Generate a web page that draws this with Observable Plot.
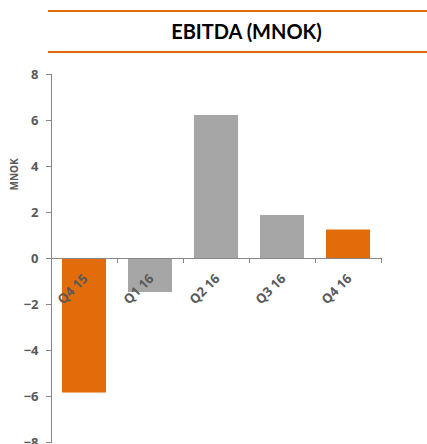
<!DOCTYPE html>
<html><head><meta charset="utf-8">
<script src="https://cdn.jsdelivr.net/npm/d3@7"></script>
<script src="https://cdn.jsdelivr.net/npm/@observablehq/plot@0.6"></script>
<style>
body{margin:0;background:#fff;font-family:Lato,"Open Sans",sans-serif;overflow:hidden;}
#title{position:absolute;left:48px;top:10px;width:379px;height:39px;border-top:2px solid #E36C0A;border-bottom:2px solid #E36C0A;text-align:center;font-weight:bold;font-size:20px;line-height:39px;color:#000;padding-left:9px;box-sizing:content-box;}
#chart{position:absolute;left:0;top:60px;}
#chart svg text{font-family:"Open Sans",sans-serif;font-weight:700;}
</style></head>
<body>
<div id="title">EBITDA (MNOK)</div>
<div id="chart"></div>
<script>
const quarters = ["Q4 15","Q1 16","Q2 16","Q3 16","Q4 16"];
const ebitda = [-5.85,-1.48,6.22,1.87,1.24];
const highlight = [true,false,false,false,true];
const yTicks = [8,6,4,2,0,-2,-4,-6,-8];
const yLabel = "MNOK";

const data = quarters.map((q,i)=>({q, v: ebitda[i], hl: highlight[i]}));
const axisColor = "#868686";
const textColor = "#595959";
const step = 66;

const chart = Plot.plot({
  width: 427, height: 384,
  marginLeft: 51, marginRight: 46, marginTop: 14, marginBottom: 2,
  style: {fontFamily: "'Open Sans', sans-serif", fontWeight: "bold", overflow: "visible"},
  x: {type: "band", domain: quarters, paddingInner: 0.33, paddingOuter: 0.165, axis: null},
  y: {domain: [-8, 8], axis: null},
  marks: [
    Plot.barY(data, {x: "q", y: "v", fill: d => d.hl ? "#E36C0A" : "#A6A6A6"}),
    Plot.frame({anchor: "left", stroke: axisColor}),
    Plot.ruleY([0], {stroke: axisColor}),
    Plot.ruleX(quarters, {x: d => d, y1: 0, y2: -0.22, dx: step/2, stroke: axisColor}),
    Plot.ruleX(quarters.slice(0,1), {x: d => d, y1: 0, y2: -0.22, dx: -step/2, stroke: axisColor}),
    Plot.axisY(yTicks, {tickSize: 5, tickPadding: 8, fontSize: 13, fontWeight: "bold", stroke: axisColor, fill: textColor, label: null}),
    Plot.text(quarters, {x: d => d, y: 0, text: d => d, rotate: -45, textAnchor: "end", dx: 1, dy: 18, fontSize: 13, fontWeight: "bold", fill: textColor}),
    Plot.text([yLabel], {frameAnchor: "left", text: d => d, rotate: -90, dx: -37, dy: -68, fontSize: 10, fontWeight: "bold", fill: textColor})
  ]
});
document.getElementById("chart").appendChild(chart);
</script>
</body></html>
